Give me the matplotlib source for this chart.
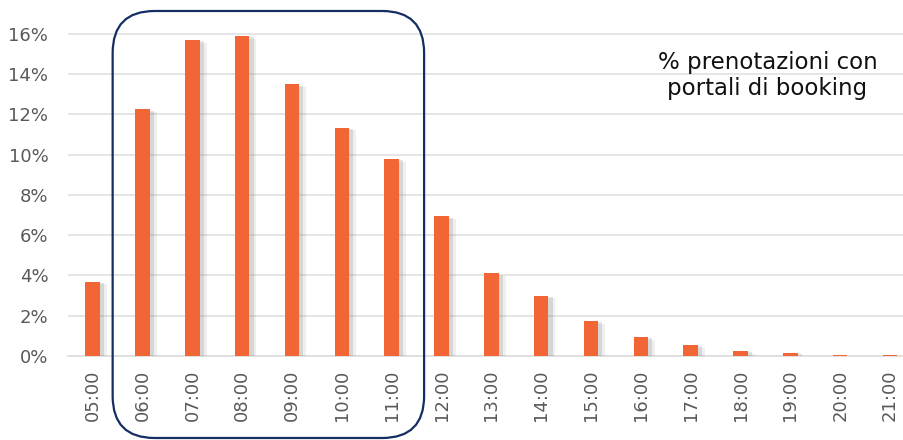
import matplotlib
matplotlib.use("Agg")
import matplotlib.pyplot as plt
import matplotlib.patheffects as pe
from matplotlib.patches import FancyBboxPatch
from matplotlib.ticker import FuncFormatter

hours = ["05:00", "06:00", "07:00", "08:00", "09:00", "10:00", "11:00", "12:00",
         "13:00", "14:00", "15:00", "16:00", "17:00", "18:00", "19:00", "20:00", "21:00"]
share = [3.7, 12.25, 15.7, 15.9, 13.5, 11.35, 9.8, 6.95,
         4.1, 3.0, 1.75, 0.95, 0.55, 0.25, 0.15, 0.07, 0.06]
note = "% prenotazioni con\nportali di booking"

BAR = "#F26535"
GRID = "#DEDEDE"
LABEL = "#595959"

fig = plt.figure(figsize=(9.04, 4.4), dpi=100)
ax = fig.add_axes([0.075, 0.191, 0.925, 0.750])

x = list(range(len(hours)))
shadow = [pe.SimplePatchShadow(offset=(5, -2), shadow_rgbFace="#808080", alpha=0.12),
          pe.SimplePatchShadow(offset=(3, -1), shadow_rgbFace="#808080", alpha=0.22),
          pe.Normal()]
bars = ax.bar(x, share, width=0.29, color=BAR, zorder=3)
for b in bars:
    b.set_path_effects(shadow)

ax.set_xlim(-0.5, 16.28)
ax.set_ylim(0, 16.4)
ax.set_yticks(range(0, 17, 2))
ax.yaxis.set_major_formatter(FuncFormatter(lambda v, _: f"{int(v)}%"))
ax.set_xticks(x)
ax.set_xticklabels(hours, rotation=90)
ax.grid(axis="y", color=GRID, linewidth=1.1, zorder=0)
ax.set_axisbelow(True)
for s in ["top", "right", "left"]:
    ax.spines[s].set_visible(False)
ax.spines["bottom"].set_color(GRID)
ax.spines["bottom"].set_linewidth(1.3)
ax.tick_params(axis="both", length=0, labelsize=13, labelcolor=LABEL)
ax.tick_params(axis="y", pad=14)
ax.tick_params(axis="x", pad=10)

fig.text(0.849, 0.828, note, ha="center", va="center", fontsize=16.5,
         color="#111111", linespacing=1.2)

# rounded frame around the morning peak (06:00 - 11:00)
fig.canvas.draw()
x0 = ax.transData.transform((0.4, 0))[0]
x1 = ax.transData.transform((6.65, 0))[0]
H = fig.get_figheight() * fig.dpi
y_top = H - 11
y_bot = H - 438
frame = FancyBboxPatch((x0, y_bot), x1 - x0, y_top - y_bot,
                       boxstyle="round,pad=0,rounding_size=42",
                       transform=None, fill=False, edgecolor="#142D63",
                       linewidth=1.6, clip_on=False, zorder=5)
fig.patches.append(frame)

fig.savefig("out.png", dpi=100, facecolor="white")
